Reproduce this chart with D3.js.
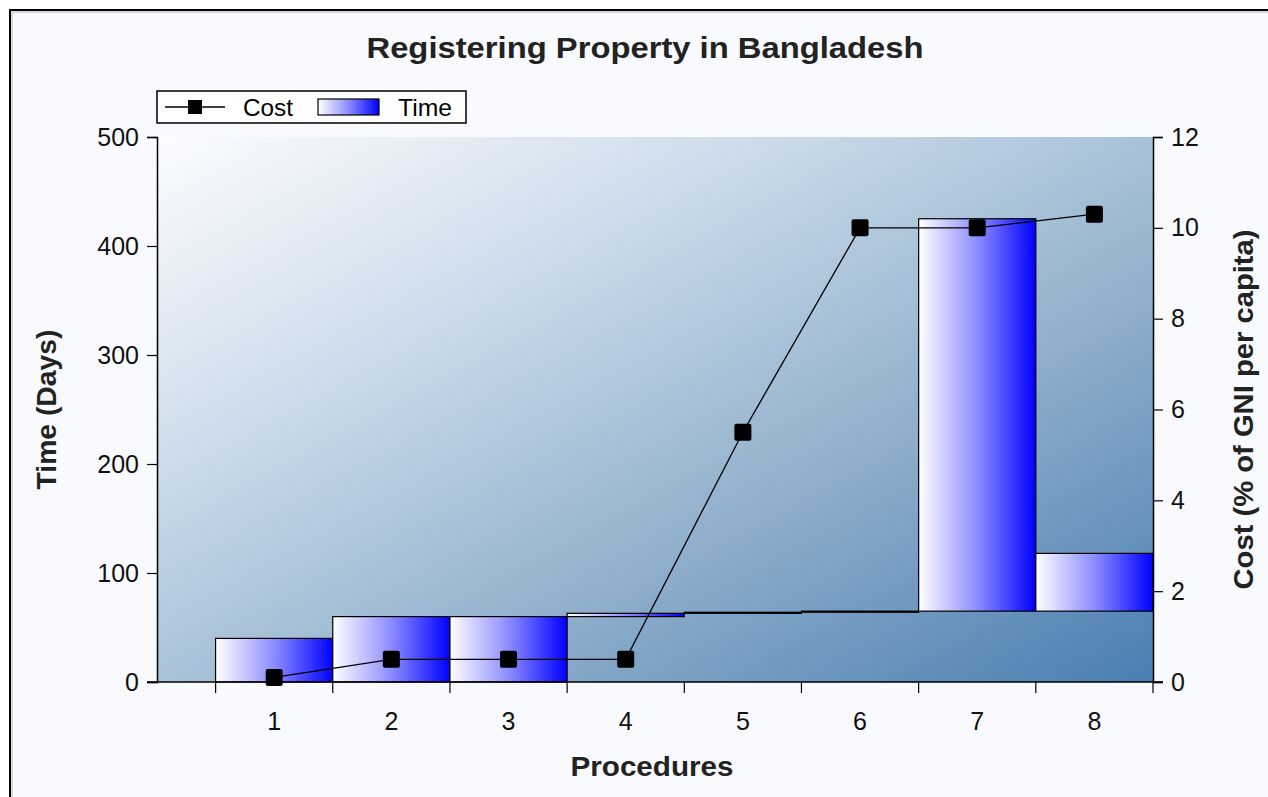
<!DOCTYPE html>
<html>
<head>
<meta charset="utf-8">
<script src="https://cdn.jsdelivr.net/npm/d3@7"></script>
<style>
  body { margin: 0; background: #ffffff; }
  svg { display: block; font-family: "Liberation Sans", Arial, sans-serif; }
</style>
</head>
<body>
<svg width="1268" height="797"></svg>
<script>
// data
var procedures = ["1", "2", "3", "4", "5", "6", "7", "8"];
var timeStart = [0, 0, 0, 60, 63, 64, 65, 65];
var timeEnd = [40, 60, 60, 63, 64, 65, 425, 118];
var cost = [0.1, 0.5, 0.5, 0.5, 5.5, 10, 10, 10.3];
var timeTicks = [0, 100, 200, 300, 400, 500];
var costTicks = [0, 2, 4, 6, 8, 10, 12];

drawChart();

function drawChart() {
    var svg = d3.select("svg");
    var left = 157, right = 1153, plotTop = 137, plotBottom = 682;
    var bandW = (right - left) / 8.5;

    var defs = svg.append("defs");
    var bg = defs.append("linearGradient").attr("id", "plotBg")
        .attr("x1", 0).attr("y1", 0).attr("x2", 1).attr("y2", 1);
    bg.append("stop").attr("offset", 0).attr("stop-color", "#fbfcff");
    bg.append("stop").attr("offset", 0.3).attr("stop-color", "#cddcea");
    bg.append("stop").attr("offset", 0.65).attr("stop-color", "#8eaecb");
    bg.append("stop").attr("offset", 1).attr("stop-color", "#4a7eb1");

    var barGrad = defs.append("linearGradient").attr("id", "barFill")
        .attr("x1", 0).attr("y1", 0).attr("x2", 1).attr("y2", 0);
    barGrad.append("stop").attr("offset", 0).attr("stop-color", "#ffffff");
    barGrad.append("stop").attr("offset", 0.5).attr("stop-color", "#8c8cff");
    barGrad.append("stop").attr("offset", 1).attr("stop-color", "#0000ff");

    // outer frame
    svg.append("rect").attr("x", 10).attr("y", 10).attr("width", 1300).attr("height", 850)
        .attr("fill", "#f9fafd").attr("stroke", "#000").attr("stroke-width", 2);
    svg.append("rect").attr("x", 12).attr("y", 12).attr("width", 1300).attr("height", 850)
        .attr("fill", "none").attr("stroke", "#bbbbbb").attr("stroke-width", 1);

    var x = d3.scaleBand().domain(procedures).range([left + bandW / 2, right]).padding(0);
    var yTime = d3.scaleLinear().domain([0, 500]).range([plotBottom, plotTop]);
    var yCost = d3.scaleLinear().domain([0, 12]).range([plotBottom, plotTop]);

    svg.append("rect").attr("x", left).attr("y", plotTop)
        .attr("width", right - left).attr("height", plotBottom - plotTop)
        .attr("fill", "url(#plotBg)");

    // time bars (floating)
    svg.append("g").selectAll("rect")
        .data(procedures)
        .enter()
        .append("rect")
        .attr("x", (d) => x(d))
        .attr("width", x.bandwidth())
        .attr("y", (d, i) => yTime(timeEnd[i]))
        .attr("height", (d, i) => yTime(timeStart[i]) - yTime(timeEnd[i]))
        .attr("fill", "url(#barFill)")
        .attr("stroke", "#000")
        .attr("stroke-width", 1.2);

    // cost line
    var line = d3.line()
        .x((d, i) => x(procedures[i]) + x.bandwidth() / 2)
        .y((d) => yCost(d));
    svg.append("path").datum(cost)
        .attr("d", line)
        .attr("fill", "none")
        .attr("stroke", "#000")
        .attr("stroke-width", 1.3);
    svg.append("g").selectAll("rect")
        .data(cost)
        .enter()
        .append("rect")
        .attr("x", (d, i) => x(procedures[i]) + x.bandwidth() / 2 - 8.5)
        .attr("y", (d) => yCost(d) - 8.5)
        .attr("width", 17).attr("height", 17)
        .attr("rx", 2)
        .attr("fill", "#000");

    // axes
    var axisLeft = d3.axisLeft(yTime).tickValues(timeTicks).tickSize(10).tickPadding(8);
    var axisRight = d3.axisRight(yCost).tickValues(costTicks).tickSize(10).tickPadding(8);
    var gl = svg.append("g").attr("transform", "translate(" + left + ",0)").call(axisLeft);
    var gr = svg.append("g").attr("transform", "translate(" + right + ",0)").call(axisRight);

    // x axis: ticks on band edges, labels centred
    var edges = procedures.map((d) => x(d)).concat([right]);
    var gx = svg.append("g");
    gx.append("line").attr("x1", left - 10).attr("x2", right + 10)
        .attr("y1", plotBottom).attr("y2", plotBottom).attr("stroke", "#000").attr("stroke-width", 1.5);
    gx.selectAll("line.tick").data(edges).enter().append("line")
        .attr("class", "tick")
        .attr("x1", (d) => d).attr("x2", (d) => d)
        .attr("y1", plotBottom).attr("y2", plotBottom + 11)
        .attr("stroke", "#000").attr("stroke-width", 1.2);
    gx.selectAll("text").data(procedures).enter().append("text")
        .attr("x", (d) => x(d) + x.bandwidth() / 2)
        .attr("y", 730)
        .attr("text-anchor", "middle")
        .attr("fill", "#111")
        .style("font-size", "25px")
        .text((d) => d);

    [gl, gr].forEach((g) => {
        g.selectAll("path").attr("stroke", "#000").attr("stroke-width", 1.5);
        g.selectAll("line").attr("stroke", "#000").attr("stroke-width", 1.2);
        g.selectAll("text").style("font-size", "25px")
            .style("font-family", "Liberation Sans, Arial, sans-serif").attr("fill", "#111");
    });

    // titles
    svg.append("text").attr("x", 645).attr("y", 58).attr("text-anchor", "middle")
        .attr("textLength", 557).attr("lengthAdjust", "spacingAndGlyphs")
        .style("font-size", "30px").style("font-weight", "bold").attr("fill", "#222")
        .text("Registering Property in Bangladesh");
    svg.append("text").attr("x", 652).attr("y", 776).attr("text-anchor", "middle")
        .attr("textLength", 163).attr("lengthAdjust", "spacingAndGlyphs")
        .style("font-size", "28px").style("font-weight", "bold").attr("fill", "#222").text("Procedures");
    svg.append("text").attr("transform", "translate(56," + (plotTop + plotBottom) / 2 + ") rotate(-90)")
        .attr("text-anchor", "middle")
        .attr("textLength", 160).attr("lengthAdjust", "spacingAndGlyphs")
        .style("font-size", "27px").style("font-weight", "bold").attr("fill", "#222").text("Time (Days)");
    svg.append("text").attr("transform", "translate(1253," + (plotTop + plotBottom) / 2 + ") rotate(-90)")
        .attr("text-anchor", "middle")
        .attr("textLength", 360).attr("lengthAdjust", "spacingAndGlyphs")
        .style("font-size", "27px").style("font-weight", "bold").attr("fill", "#222").text("Cost (% of GNI per capita)");

    // legend
    var lg = svg.append("g");
    lg.append("rect").attr("x", 157).attr("y", 91).attr("width", 309).attr("height", 32)
        .attr("fill", "#fff").attr("stroke", "#000").attr("stroke-width", 1.5);
    lg.append("line").attr("x1", 165).attr("x2", 225).attr("y1", 107).attr("y2", 107)
        .attr("stroke", "#000").attr("stroke-width", 1.3);
    lg.append("rect").attr("x", 188).attr("y", 100).attr("width", 14).attr("height", 14).attr("fill", "#000");
    lg.append("text").attr("x", 243).attr("y", 116).style("font-size", "24px")
        .attr("textLength", 50).attr("lengthAdjust", "spacingAndGlyphs").text("Cost");
    lg.append("rect").attr("x", 318).attr("y", 99).attr("width", 61).attr("height", 16)
        .attr("fill", "url(#barFill)").attr("stroke", "#000").attr("stroke-width", 1.2);
    lg.append("text").attr("x", 398).attr("y", 116).style("font-size", "24px")
        .attr("textLength", 54).attr("lengthAdjust", "spacingAndGlyphs").text("Time");
}
</script>
</body>
</html>
